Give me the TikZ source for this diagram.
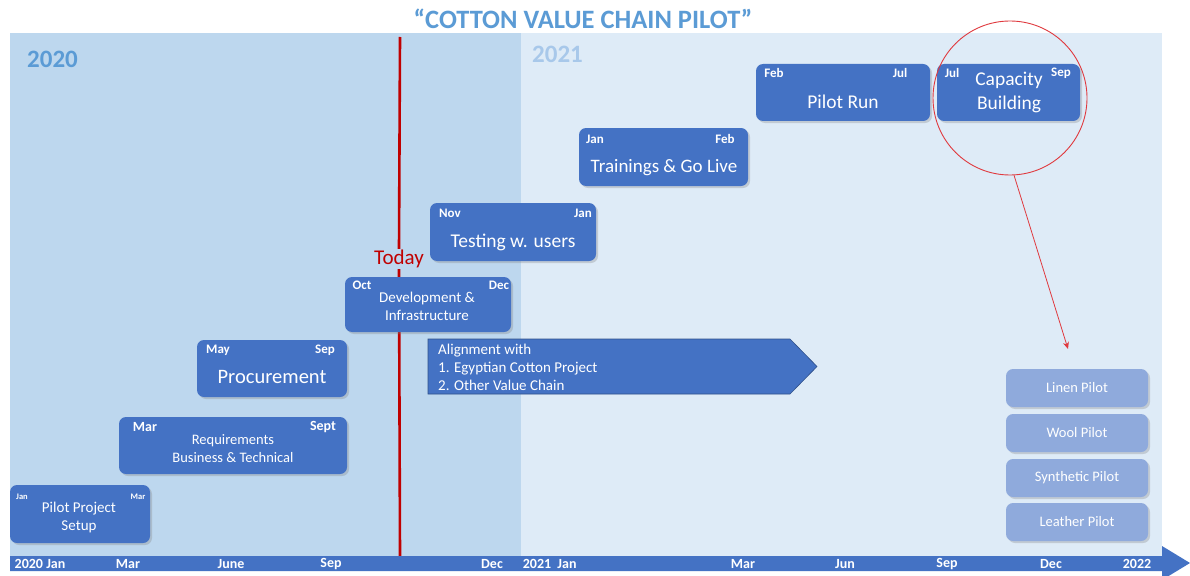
\documentclass[tikz,border=0pt]{standalone}
\usepackage{fontspec}
\setmainfont{Carlito}
\usetikzlibrary{shadows,arrows.meta}
\definecolor{boxblue}{HTML}{4472C4}
\definecolor{lightbox}{HTML}{8FAADC}
\definecolor{bgA}{HTML}{BDD7EE}
\definecolor{bgB}{HTML}{DEEBF7}
\definecolor{titleblue}{HTML}{5B9BD5}
\definecolor{yearB}{HTML}{A8C8EA}
\definecolor{todayred}{HTML}{C00000}
\definecolor{circred}{HTML}{E0393E}
\newcommand{\fs}[2]{\fontsize{#1}{#2}\selectfont}
\tikzset{
  box/.style={rectangle, rounded corners=7pt, fill=boxblue, draw=none, inner sep=0pt,
    drop shadow={opacity=0.3, shadow xshift=2pt, shadow yshift=-2pt}},
  pbox/.style={box, fill=lightbox, minimum width=142pt, minimum height=38pt,
    text=white, font=\fs{14.5}{17}},
  mon/.style={text=white, font=\bfseries\fs{13}{15}, inner sep=0pt},
  big/.style={text=white, font=\fs{19.5}{23}, inner sep=0pt, align=center},
  mid/.style={text=white, font=\fs{15}{18}, inner sep=0pt, align=center},
  tl/.style={text=white, font=\bfseries\fs{14}{16}, inner sep=0pt},
}
\begin{document}
\begin{tikzpicture}[x=1pt,y=-1pt]
\clip (0,0) rectangle (1190,575);
\fill[white] (0,0) rectangle (1190,575);
% title
\node[text=titleblue, font=\bfseries\fs{26.5}{30}] (title) at (583,19) {“COTTON VALUE CHAIN PILOT”};
% backgrounds
\fill[bgA] (10,33) rectangle (521,556);
\fill[bgB] (521,33) rectangle (1162,556);
\node[text=titleblue, font=\bfseries\fs{25}{29}, anchor=west, inner sep=0pt] (y2020) at (27,59) {2020};
\node[text=yearB, font=\bfseries\fs{25}{29}, anchor=west, inner sep=0pt] (y2021) at (532,54) {2021};
% today line
\coordinate (lt) at (400,37);
\coordinate (lb) at (400,556);
\node[text=todayred, font=\fs{21}{25}, inner sep=1pt] (today) at (399,259) {Today};
\draw[todayred, line width=2.6pt] (lt) -- (today.north);
\draw[todayred, line width=2.6pt] (today.south) -- (lb);
% timeline bar
\fill[boxblue] (10,556) -- (1162,556) -- (1162,546) -- (1190,563) -- (1162,580) -- (1162,571) -- (10,571) -- cycle;
\node[tl] (t1) at (40,564) {2020 Jan};
\node[tl] (t2) at (128,564) {Mar};
\node[tl] (t3) at (231,564) {June};
\node[tl] (t4) at (331,564) {Sep};
\node[tl] (t5) at (492,564) {Dec};
\node[tl] (t6) at (537,564) {2021};
\node[tl] (t7) at (567,564) {Jan};
\node[tl] (t8) at (743,564) {Mar};
\node[tl] (t9) at (845,564) {Jun};
\node[tl] (t10) at (947,564) {Sep};
\node[tl] (t11) at (1051,564) {Dec};
\node[tl] (t12) at (1137,564) {2022};
% boxes
\node[box, minimum width=140pt, minimum height=58pt] (setup) at (80,514) {};
\node[mon, font=\bfseries\fs{8.5}{10}] at (22,497) {Jan};
\node[mon, font=\bfseries\fs{8.5}{10}] at (138,497) {Mar};
\node[mid] at (79,517) {Pilot Project\\Setup};

\node[box, minimum width=228pt, minimum height=57pt] (req) at (233,445.5) {};
\node[mon, font=\bfseries\fs{14}{16}] at (145,427) {Mar};
\node[mon, font=\bfseries\fs{14}{16}] at (323,427) {Sept};
\node[mid, font=\fs{14.5}{18}] at (233,449) {Requirements\\Business \& Technical};

\node[box, minimum width=150pt, minimum height=57pt] (proc) at (272,368.5) {};
\node[mon] at (218,350) {May};
\node[mon] at (325,350) {Sep};
\node[big, font=\fs{20.5}{24}] at (272,377) {Procurement};

\node[box, minimum width=166pt, minimum height=55pt] (dev) at (428,304.5) {};
\node[mon] at (362,285) {Oct};
\node[mon] at (499,285) {Dec};
\node[mid] at (427,306) {Development \&\\Infrastructure};

\node[box, minimum width=166pt, minimum height=58pt] (test) at (513,232) {};
\node[mon] at (450,213) {Nov};
\node[mon] at (583,213) {Jan};
\node[big] at (513,242) {Testing w. users};

\node[box, minimum width=169pt, minimum height=58pt] (train) at (663.5,157) {};
\node[mon] at (595,139) {Jan};
\node[mon] at (725,139) {Feb};
\node[big, font=\fs{19}{23}] at (664,168) {Trainings \& Go Live};

\node[box, minimum width=174pt, minimum height=57pt] (run) at (843,92.5) {};
\node[mon] at (774,73) {Feb};
\node[mon] at (900,73) {Jul};
\node[big] at (843,102) {Pilot Run};

\node[box, minimum width=143pt, minimum height=57pt] (cap) at (1008.5,92.5) {};
\node[mon] at (952,73) {Jul};
\node[mon] at (1061,73) {Sep};
\node[big, font=\fs{19.5}{24}] at (1009,92) {Capacity\\Building};

% alignment arrow
\filldraw[fill=boxblue, draw=boxblue!70!black, line width=0.6pt] (428,339) -- (790,339) -- (817,366.5) -- (790,394) -- (428,394) -- cycle;
\node[mid, anchor=north west, align=left] (align) at (438,344) {Alignment with\\1. Egyptian Cotton Project\\2. Other Value Chain};

% pilots
\node[pbox] (linen) at (1077,388) {Linen Pilot};
\node[pbox] (wool) at (1077,433) {Wool Pilot};
\node[pbox] (syn) at (1077,478) {Synthetic Pilot};
\node[pbox] (leather) at (1077,522) {Leather Pilot};

% circle and arrow
\node[circle, draw=circred, line width=0.9pt, minimum size=154pt, inner sep=0pt] (circ) at (1010,98) {};
\coordinate (arrend) at (1068,349);
\draw[circred, line width=0.8pt, -{Stealth[length=7pt,width=6pt]}] (circ.-87) -- (arrend);
\end{tikzpicture}
\end{document}
